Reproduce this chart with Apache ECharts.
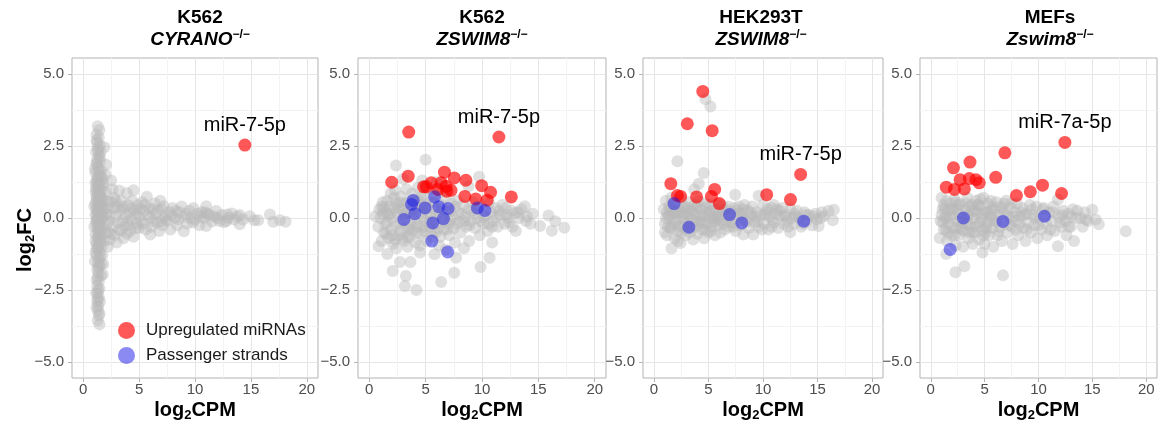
<!DOCTYPE html>
<html><head><meta charset="utf-8">
<script src="https://cdn.jsdelivr.net/npm/echarts@6/dist/echarts.min.js"></script>
<style>html,body{margin:0;padding:0;background:#fff}#c{width:1161px;height:428px}</style>
</head><body><div id="c"></div>
<script>
// ---------- DATA ----------
const cellLines = ['K562', 'K562', 'HEK293T', 'MEFs'];
const genes = ['CYRANO', 'ZSWIM8', 'ZSWIM8', 'Zswim8'];
const xTicks = [0, 5, 10, 15, 20];
const yTicks = [-5, -2.5, 0, 2.5, 5];
const xMinor = [2.5, 7.5, 12.5, 17.5];
const yMinor = [-3.75, -1.25, 1.25, 3.75];
const seriesNames = ['Upregulated miRNAs', 'Passenger strands'];
const labelNames = ['miR-7-5p', 'miR-7-5p', 'miR-7-5p', 'miR-7a-5p'];
const labelIndex = [0, 1, 3, 0];

const p1Gray = [[1.3,3.18],[1.45,3.05],[1.2,2.9],[1.4,2.78],[1.25,2.62],[1.5,2.5],[1.3,2.44],[1.15,2.3],[1.4,2.18],[1.9,2.45],[1.25,2.05],[1.5,1.97],[1.2,1.86],[1.35,1.74],[1.6,1.66],[1.1,1.58],[1.45,1.5],[1.3,1.41],[1.7,1.35],[1.2,1.27],[1.5,1.2],[1.35,1.1],[1.15,1.02],[1.6,0.96],[1.3,0.88],[1.45,0.8],[1.2,0.72],[1.55,0.65],[1.35,0.57],[1.1,0.5],[1.5,0.43],[1.25,0.36],[1.4,0.28],[1.6,0.2],[1.2,0.13],[1.45,0.06],[1.3,-0.02],[1.55,-0.09],[1.15,-0.16],[1.4,-0.24],[1.25,-0.32],[1.5,-0.4],[1.35,-0.48],[1.1,-0.56],[1.45,-0.64],[1.3,-0.73],[1.55,-0.82],[1.2,-0.9],[1.4,-1.0],[1.3,-1.1],[1.5,-1.2],[1.2,-1.3],[1.4,-1.42],[1.3,-1.55],[1.45,-1.66],[1.25,-1.78],[1.35,-1.9],[1.3,-2.05],[1.4,-2.2],[1.25,-2.35],[1.35,-2.5],[1.3,-2.62],[1.4,-2.75],[1.25,-2.9],[1.35,-3.05],[1.3,-3.2],[1.4,-3.38],[1.46,-3.69],[1.3,-3.55],
[1.2,0.3],[1.4,0.15],[1.25,-0.05],[1.35,-0.35],[1.2,0.6],[1.45,-0.55],[1.3,1.0],[1.4,-0.85],[1.25,1.35],[1.5,0.0],
[1.2,2.7],[1.35,2.35],[1.5,2.1],[1.2,1.92],[1.4,1.62],[1.6,1.45],[1.3,1.18],[1.45,0.95],[1.25,0.78],[1.55,0.52],[1.3,0.22],[1.2,-0.1],[1.5,-0.3],[1.3,-0.62],[1.6,-0.7],[1.2,-1.05],[1.5,-1.35],[1.35,-1.7],[1.2,-2.15],[1.45,-2.45],[1.3,-2.82],[1.2,-3.1],[1.45,-3.3],
[1.1,0.9],[1.6,0.75],[1.1,-0.8],[1.6,-0.45],[1.1,1.2],[1.65,1.1],[1.1,-1.2],[1.65,-1.0],[1.1,0.1],[1.65,0.35],
[1.0,0.4],[1.0,-0.3],[1.75,0.0],[1.75,-0.35],[1.7,0.45],[1.05,-1.5],[1.05,1.7],[1.6,-1.6],[1.55,2.3],[1.6,-2.0],[1.15,-2.6],[1.5,-2.9],
[1.8,1.2],[2.0,0.9],[2.2,0.6],[1.9,0.3],[2.4,0.1],[2.1,-0.2],[2.3,-0.5],[1.9,-0.8],[2.2,-1.0],[2.6,1.0],[2.8,0.7],[2.7,0.35],[2.9,0.05],[2.6,-0.3],[2.8,-0.6],[3.0,-0.85],[2.5,1.3],[2.0,1.5],[1.7,-1.3],[1.8,-1.6],[1.75,-1.95],[2.05,1.85],[2.4,-0.75],[1.8,0.05],[2.0,-0.5],[1.7,0.7],
[1.8,0.6],[2.1,0.15],[2.5,0.55],[2.3,-0.1],[3.0,0.4],[3.1,-0.15],[3.6,0.3],[3.7,-0.3],[4.2,0.2],[4.2,-0.45],[4.8,0.15],[5.1,0.3],[5.4,-0.2],[5.8,0.1],[6.3,-0.1],[6.7,0.25],[7.4,-0.05],[7.9,0.1],[8.5,-0.05],[9.2,0.15],[9.8,-0.15],[10.5,0.05],[11.1,0.15],[11.7,0.05],[12.2,-0.1],[13.0,0.0],
[2.2,0.35],[2.5,-0.55],[2.9,0.6],[3.4,-0.45],[3.5,0.4],[4.0,-0.1],[4.4,0.35],[5.0,-0.35],[5.5,0.45],[6.2,0.3],[7.0,-0.1],[8.3,0.25],[9.6,0.0],[10.9,0.2],[12.8,-0.1],
[3.2,0.95],[3.4,0.6],[3.3,0.25],[3.5,-0.1],[3.2,-0.4],[3.6,-0.7],[3.9,0.87],[4.0,0.45],[3.8,0.1],[4.1,-0.25],[3.9,-0.55],[4.5,0.96],[4.4,0.6],[4.6,0.25],[4.3,-0.05],[4.7,-0.35],[4.5,-0.65],[4.9,0.45],[5.0,0.05],[4.8,-0.2],
[5.3,0.55],[5.5,0.25],[5.2,-0.1],[5.6,-0.4],[5.7,0.74],[5.9,0.35],[6.0,0.0],[6.1,-0.3],[6.0,-0.57],[6.4,0.5],[6.5,0.15],[6.6,-0.15],[6.8,-0.45],[6.9,0.6],[7.0,0.3],[7.2,0.41],[7.3,0.05],[7.1,-0.25],[7.5,-0.1],[7.8,-0.4],[7.7,0.2],[8.0,0.35],
[8.2,0.0],[8.4,-0.25],[8.6,0.2],[8.8,0.4],[9.0,-0.46],[9.1,0.05],[9.3,-0.2],[9.5,0.25],[9.85,0.35],[10.0,-0.05],[10.2,0.15],[10.4,-0.25],[10.6,0.2],[10.8,0.0],[11.0,0.41],[11.0,-0.28],[11.3,0.1],[11.5,-0.12],[11.9,0.24],[12.0,0.0],
[12.4,0.1],[12.6,-0.15],[12.9,0.12],[13.3,0.16],[13.5,-0.05],[13.8,0.05],[14.0,-0.22],[14.0,0.1],[14.3,-0.05],[14.9,0.06],[15.3,-0.08],[15.65,-0.08],[16.7,0.12],[17.0,-0.13],[17.6,-0.08],[18.1,-0.13]];
const p1Up = [[14.46,2.53]];
const p1Pass = [];

const p2Gray = [[0.53,0.06],[0.82,-0.98],[1.1,-0.8],[0.9,0.3],[0.8,-0.3],[1.2,0.55],[1.3,-0.5],[1.0,0.0],[1.5,0.2],[1.4,-0.2],[1.6,0.6],[1.7,-0.7],[1.9,0.85],[1.8,0.4],[2.0,0.0],[1.9,-0.4],[2.1,-0.9],[2.3,0.96],[2.4,0.5],[2.5,0.15],[2.3,-0.25],[2.6,-0.6],[2.4,-1.05],[2.8,0.75],[2.9,0.3],[3.0,-0.1],[2.8,-0.45],[3.1,-0.8],[3.3,1.0],[3.4,0.55],[3.5,0.2],[3.3,-0.3],[3.6,-0.65],[3.4,-1.0],[3.8,0.85],[3.9,0.3],[4.0,-0.05],[3.8,-0.45],[4.1,-0.85],[4.3,1.05],[4.4,0.6],[4.5,0.2],[4.3,-0.2],[4.6,-0.55],[4.5,-0.95],[4.8,0.8],[4.9,0.35],[5.0,-0.1],[4.9,-0.45],[5.1,-0.8],[5.3,1.0],[5.4,0.55],[5.5,0.1],[5.3,-0.3],[5.6,-0.65],[5.8,0.8],[5.9,0.3],[6.0,-0.2],[5.9,-0.5],[6.2,-0.95],[6.3,0.9],[6.4,0.45],[6.5,0.0],[6.6,-0.4],[6.8,0.7],[6.9,0.2],[7.0,-0.2],[7.1,-0.6],[7.3,0.5],[7.4,0.05],[7.5,-0.35],[7.6,-0.85],[7.8,0.6],[7.9,0.2],[8.0,-0.15],[8.1,-0.5],
[1.2,0.15],[1.6,-0.15],[2.2,0.35],[2.7,-0.2],[3.2,0.15],[3.7,-0.25],[4.2,0.4],[4.7,0.05],[5.2,0.35],[5.7,-0.1],[6.2,0.2],[6.7,-0.1],
[1.3,0.35],[1.7,0.1],[2.0,-0.6],[2.2,0.7],[2.6,0.35],[2.9,-0.7],[3.1,0.5],[3.5,-0.4],[3.7,0.1],[4.0,0.65],[4.3,-0.5],[4.6,0.45],[4.8,-0.3],[5.1,0.15],[5.5,-0.45],[5.7,0.55],[6.1,-0.35],[6.5,0.3],[6.9,-0.4],[7.2,0.25],[7.7,-0.2],[8.2,0.15],[8.9,-0.25],[9.5,0.3],[10.2,0.05],[10.9,-0.3],[11.5,0.25],[12.4,-0.15],[13.2,0.2],[14.0,0.05],
[1.1,0.4],[1.5,-0.55],[1.9,0.15],[2.3,-0.75],[2.7,0.55],[3.0,0.1],[3.4,-0.65],[3.9,0.6],[4.2,-0.3],[4.6,0.7],[5.0,0.45],[5.4,-0.15],[5.9,0.05],[6.3,-0.65],[7.2,-0.05],[7.6,0.4],[8.4,-0.1],[9.1,0.25],[9.9,-0.1],[10.6,-0.2],[11.3,0.05],[12.2,0.1],
[8.3,0.45],[8.5,0.05],[8.6,-0.3],[8.86,-0.8],[8.8,0.3],[9.0,-0.1],[9.2,0.55],[9.3,0.15],[9.4,-0.35],[9.6,0.0],[9.8,-0.6],[9.74,1.43],[9.9,0.4],[10.1,-0.2],[10.3,0.1],[10.5,-0.45],[10.6,0.5],[10.9,-0.85],[10.8,0.2],[11.0,-0.1],[11.2,0.35],[11.4,-0.3],[11.6,0.1],[11.8,0.45],[12.1,0.35],[12.0,-0.2],[12.3,0.0],[12.6,0.25],[12.7,-0.3],[13.0,0.18],[13.0,-0.45],[13.3,0.0],[13.5,0.3],[13.8,0.41],[13.9,-0.1],[14.3,-0.2],[14.5,0.15],[15.15,-0.28],[15.9,0.09],[16.2,-0.44],[16.5,-0.11],[17.3,-0.34],
[2.37,1.82],[5.0,2.02],[2.08,-1.84],[3.25,-2.01],[3.16,-2.36],[4.18,-2.5],[6.38,-2.22],[7.54,-1.9],[9.88,-1.7],[10.67,-1.38],[2.72,-1.53],[3.65,-1.53],[5.79,-1.26],[7.7,-1.38],[4.5,-1.2],[1.6,-1.25],[6.8,-1.1],[8.4,-1.05],[3.0,1.35],[4.7,1.3],[8.8,1.1],[6.0,1.25]];
const p2Up = [[3.5,2.98],[11.5,2.81],[3.45,1.45],[1.99,1.24],[4.82,1.08],[5.06,1.08],[5.5,1.22],[6.38,1.22],[6.67,1.59],[7.54,1.39],[6.81,1.1],[7.25,0.96],[6.87,0.93],[8.57,1.31],[9.97,1.12],[10.76,0.89],[8.48,0.75],[9.44,0.66],[10.46,0.62],[12.6,0.73],[6.08,0.99]];
const p2Pass = [[3.89,0.61],[3.75,0.47],[5.79,0.73],[4.95,0.35],[6.17,0.39],[6.99,0.33],[4.04,0.15],[3.07,-0.05],[5.64,-0.17],[6.58,-0.02],[9.59,0.35],[10.26,0.26],[5.55,-0.8],[6.96,-1.18]];

const p3Gray = [[0.9,0.3],[1.0,-0.2],[1.1,0.6],[1.2,-0.6],[1.3,0.05],[1.4,0.4],[1.5,-0.35],[1.61,-1.06],[1.6,0.7],[1.7,0.15],[1.8,-0.2],[1.9,-0.7],[2.0,0.45],[2.1,-0.05],[2.2,-0.45],[2.15,1.97],[2.3,0.3],[2.45,-0.87],[2.5,0.65],[2.6,0.0],[2.7,-0.3],[2.8,0.4],[2.9,-0.6],[3.0,0.15],[3.1,-0.15],[3.2,0.55],[3.3,-0.5],[3.4,0.25],[3.5,-0.05],[3.6,-0.75],[3.7,1.0],[3.7,0.45],[3.8,-0.3],[3.9,0.1],[4.0,-0.55],[4.12,1.19],[4.1,0.6],[4.2,-0.1],[4.3,0.3],[4.4,-0.4],[4.57,1.56],[4.5,0.05],[4.6,-0.7],[4.73,4.12],[5.18,3.87],[4.7,0.5],[4.8,-0.2],[4.9,0.2],[5.0,-0.5],[5.1,0.45],[5.2,0.0],[5.3,-0.3],[5.5,0.3],[5.6,-0.6],[5.7,0.05],[5.8,0.5],[5.9,-0.25],[6.0,0.2],[6.1,-0.5],[6.2,0.45],[6.3,-0.1],[6.4,0.25],[6.5,-0.4],
[1.2,0.2],[1.6,-0.3],[2.0,-0.1],[2.4,0.2],[2.8,-0.1],[3.3,0.0],[3.9,0.35],[4.4,-0.15],[5.0,0.1],[5.6,-0.1],[6.1,0.05],[1.0,-0.5],[1.4,0.1],[2.2,-0.8],[3.0,-0.4],
[1.3,-0.3],[1.7,0.5],[2.1,0.2],[2.5,-0.5],[2.9,0.3],[3.2,-0.25],[3.6,0.2],[4.0,0.45],[4.3,-0.2],[4.8,0.35],[5.2,-0.45],[5.5,0.0],[5.9,0.3],[6.4,-0.2],[6.9,0.05],[7.3,-0.3],[7.8,0.15],[8.2,0.3],[8.6,-0.1],[9.3,0.05],[9.9,-0.4],[10.4,0.3],[10.9,-0.05],[11.5,0.25],[12.0,0.05],[12.9,0.15],[13.7,-0.2],[14.6,0.05],[15.4,0.2],
[1.1,0.0],[1.5,0.3],[1.9,0.2],[2.3,-0.3],[2.7,0.2],[3.1,0.35],[3.5,-0.35],[3.9,-0.1],[4.3,0.1],[4.7,-0.4],[5.1,0.2],[5.4,-0.15],[6.0,-0.05],[6.6,0.3],[7.0,-0.15],[7.6,0.25],[8.0,-0.05],[8.8,0.2],[9.5,-0.1],[10.2,0.1],[10.8,-0.3],[11.3,0.3],[12.2,-0.1],[13.0,0.05],[13.9,0.1],[14.9,-0.05],
[6.7,0.1],[6.8,0.4],[6.9,-0.3],[7.1,0.2],[7.2,-0.15],[7.45,0.81],[7.4,0.35],[7.5,-0.45],[7.7,0.05],[7.8,0.4],[7.9,-0.25],[8.1,0.15],[8.2,-0.57],[8.3,0.45],[8.4,-0.1],[8.6,0.25],[8.7,-0.35],[8.9,0.05],[9.1,-0.57],[9.0,0.4],[9.2,-0.15],[9.4,0.2],[9.6,0.77],[9.6,-0.3],[9.8,0.1],[10.0,0.45],[10.1,-0.2],[10.3,0.2],[10.5,-0.4],[10.6,0.05],[10.8,0.35],[11.0,0.45],[11.0,-0.15],[11.2,0.15],[11.4,-0.35],[11.6,0.07],[11.8,0.35],[11.9,-0.2],
[12.1,0.1],[12.3,-0.3],[12.5,-0.49],[12.5,0.3],[12.7,0.0],[12.9,-0.2],[13.1,0.25],[13.3,0.0],[13.5,-0.3],[13.8,0.2],[14.0,-0.1],[14.2,0.1],[14.5,-0.25],[14.8,0.15],[15.1,-0.28],[15.3,0.0],[15.6,0.07],[16.0,0.25],[16.4,-0.08],[16.5,0.29]];
const p3Up = [[4.48,4.39],[3.06,3.27],[5.34,3.03],[13.45,1.51],[1.55,1.19],[5.57,0.99],[2.15,0.78],[2.45,0.75],[3.91,0.73],[5.27,0.75],[6.0,0.5],[10.34,0.81],[12.52,0.64]];
const p3Pass = [[1.85,0.5],[3.21,-0.32],[6.94,0.12],[8.06,-0.17],[13.73,-0.11]];

const p4Gray = [[0.83,-0.69],[0.9,-0.1],[1.0,0.7],[1.1,0.3],[1.2,-0.4],[1.3,0.0],[1.44,0.59],[1.44,-1.25],[1.5,-0.8],[1.6,0.25],[1.7,-0.2],[1.8,0.5],[1.9,-0.6],[2.0,0.1],[2.1,-0.35],[2.2,0.65],[2.29,-1.88],[2.3,-0.95],[2.4,0.3],[2.5,-0.1],[2.6,-0.6],[2.7,0.5],[2.8,0.0],[2.9,-0.4],[3.12,-1.67],[3.0,-1.0],[3.2,0.3],[3.3,-0.2],[3.4,0.7],[3.5,-0.7],[3.6,0.1],[3.7,-0.3],[3.8,0.45],[3.9,-0.9],[4.0,0.0],[4.1,-0.5],[4.2,0.6],[4.3,0.2],[4.4,-0.2],[4.5,-0.75],[4.8,-1.2],[4.6,0.4],[4.7,0.0],[4.8,-0.4],[4.9,0.7],[5.0,-0.9],[5.1,0.2],[5.2,-0.2],[5.3,0.5],[5.4,-0.6],[5.5,0.05],[5.6,0.6],[5.7,-0.35],[5.8,-1.0],[5.9,0.3],[6.0,-0.1],
[1.1,-0.15],[1.6,-0.5],[2.1,0.3],[2.6,0.15],[3.1,-0.45],[3.6,0.4],[4.1,0.25],[4.6,-0.15],[5.1,-0.5],[5.6,0.25],[1.3,0.35],[2.4,-0.3],[3.4,0.05],[4.4,0.45],[5.4,-0.15],
[1.2,0.45],[1.5,0.0],[1.9,0.3],[2.2,-0.6],[2.6,0.45],[2.9,-0.15],[3.3,0.5],[3.6,-0.5],[3.9,0.25],[4.2,-0.3],[4.6,0.65],[4.9,-0.6],[5.3,0.2],[5.7,0.4],[6.2,-0.1],[6.6,0.3],[7.1,0.1],[7.5,0.5],[7.9,-0.4],[8.4,0.2],[8.9,-0.4],[9.4,0.3],[10.0,-0.25],[10.6,0.1],[11.3,0.2],[12.0,-0.15],[12.8,-0.3],[13.6,0.25],[14.4,-0.05],
[1.0,0.1],[1.4,-0.4],[1.8,0.0],[2.3,0.55],[2.7,-0.35],[3.1,0.1],[3.5,-0.2],[3.9,-0.5],[4.3,0.45],[4.8,0.15],[5.2,-0.35],[5.7,0.05],[6.3,-0.45],[6.8,0.5],[7.3,-0.25],[7.7,0.05],[8.2,-0.2],[8.7,0.1],[9.7,0.0],[10.5,0.35],[11.1,-0.4],[12.2,0.1],[13.0,0.05],
[6.1,0.55],[6.2,-0.6],[6.3,0.1],[6.4,-0.3],[6.5,0.4],[6.7,-1.99],[6.6,-0.8],[6.8,0.2],[6.9,-0.2],[7.0,0.6],[7.1,-0.5],[7.3,0.0],[7.4,0.35],[7.5,-0.3],[7.6,-0.9],[7.8,0.2],[7.9,-0.1],[8.0,0.5],[8.1,-0.6],[8.3,0.05],[8.5,0.35],[8.6,-0.35],[8.8,-0.8],[8.9,0.15],[9.0,-0.15],[9.2,0.45],[9.3,-0.5],[9.5,0.1],[9.6,-0.25],[9.8,0.4],[9.9,-0.7],[10.1,0.0],[10.3,-0.4],[10.4,0.3],[10.7,-0.2],[10.8,-0.6],[11.0,0.2],
[11.2,-0.1],[11.4,0.4],[11.5,-0.45],[11.8,0.64],[11.8,-0.98],[11.9,0.05],[12.1,-0.3],[12.3,0.25],[12.5,-0.1],[12.6,-0.6],[12.8,0.15],[13.0,-0.3],[13.3,-0.8],[13.2,0.3],[13.5,0.0],[13.9,0.0],[14.1,-0.3],[14.3,0.2],[14.6,-0.1],[15.0,0.29],[15.3,-0.05],[15.6,-0.22],[18.1,-0.46]];
const p4Up = [[12.45,2.62],[6.88,2.26],[3.64,1.94],[2.11,1.74],[6.03,1.41],[2.72,1.33],[3.58,1.37],[4.19,1.33],[4.5,1.22],[1.44,1.07],[2.2,0.99],[3.12,1.01],[10.37,1.14],[9.24,0.91],[7.95,0.78],[12.14,0.85]];
const p4Pass = [[3.03,0.0],[6.7,-0.12],[10.55,0.06],[1.8,-1.09]];

// ---------- LAYOUT / STYLE ----------
const grayData = [p1Gray, p2Gray, p3Gray, p4Gray];
const upData = [p1Up, p2Up, p3Up, p4Up];
const passData = [p1Pass, p2Pass, p3Pass, p4Pass];
const FONT = '"Liberation Sans", Arial, sans-serif';
const gridLeft = [72, 358, 643, 920];
const gridWidth = [246, 248, 240, 237];
const titleX = [200, 482, 761, 1050];
const GRID_TOP = 58, GRID_H = 320;
const GRAY = 'rgba(185,185,185,0.55)';
const RED = 'rgba(255,0,0,0.82)';
const BLUE = 'rgba(25,25,230,0.64)';

const fmtY = v => (v < 0 ? '\u2212' : '') + Math.abs(v).toFixed(1);

const grids = [], xAxes = [], yAxes = [], series = [], graphics = [];
// minor-grid axes first (indices 0..3), drawn underneath the major ones
for (let i = 0; i < 4; i++) {
  xAxes.push({gridIndex: i, type: 'value', min: -1, max: 21, position: 'top',
    axisLine: {show: false, onZero: false}, axisLabel: {show: false},
    axisTick: {show: false, customValues: xMinor},
    splitLine: {show: true, lineStyle: {color: '#f3f3f3', width: 1}}});
  yAxes.push({gridIndex: i, type: 'value', min: -5.55, max: 5.55, position: 'right',
    axisLine: {show: false, onZero: false}, axisLabel: {show: false},
    axisTick: {show: false, customValues: yMinor},
    splitLine: {show: true, lineStyle: {color: '#f3f3f3', width: 1}}});
}
for (let i = 0; i < 4; i++) {
  grids.push({left: gridLeft[i], top: GRID_TOP, width: gridWidth[i], height: GRID_H,
    show: true, borderColor: '#b3b3b3', borderWidth: 1, backgroundColor: '#fff'});
  xAxes.push({gridIndex: i, type: 'value', min: -1, max: 21, position: 'bottom',
    axisLine: {show: false, onZero: false},
    axisTick: {show: true, length: 4, customValues: xTicks, lineStyle: {color: '#b3b3b3'}},
    axisLabel: {customValues: xTicks, color: '#4d4d4d', fontSize: 15, fontFamily: FONT, margin: 4},
    splitLine: {show: true, lineStyle: {color: '#e6e6e6', width: 1}}});
  yAxes.push({gridIndex: i, type: 'value', min: -5.55, max: 5.55, position: 'left',
    axisLine: {show: false, onZero: false},
    axisTick: {show: true, length: 4, customValues: yTicks, lineStyle: {color: '#b3b3b3'}},
    axisLabel: {customValues: yTicks, color: '#4d4d4d', fontSize: 15, fontFamily: FONT, margin: 8, formatter: fmtY},
    splitLine: {show: true, lineStyle: {color: '#e6e6e6', width: 1}}});
  const ax = 4 + i;
  series.push({type: 'scatter', name: 'other', xAxisIndex: ax, yAxisIndex: ax, data: grayData[i],
    symbol: 'circle', symbolSize: 12, itemStyle: {color: GRAY}, silent: true, z: 2});
  series.push({type: 'scatter', name: seriesNames[0], xAxisIndex: ax, yAxisIndex: ax,
    data: upData[i].map((d, k) => k === labelIndex[i] ? {value: d, label: {show: true, formatter: labelNames[i],
      position: 'top', distance: 3, fontSize: 20, color: '#000', opacity: 1, textBorderWidth: 0, fontFamily: FONT}} : d),
    symbol: 'circle', symbolSize: 13, itemStyle: {color: RED}, silent: true, z: 3});
  series.push({type: 'scatter', name: seriesNames[1], xAxisIndex: ax, yAxisIndex: ax, data: passData[i],
    symbol: 'circle', symbolSize: 13, itemStyle: {color: BLUE}, silent: true, z: 4});

  graphics.push({type: 'text', x: titleX[i], y: 7, style: {
    text: '{b|' + cellLines[i] + '}\n{i|' + genes[i] + '}{s|\u2212/\u2212}',
    align: 'center', verticalAlign: 'top',
    rich: {
      b: {fontSize: 19, fontWeight: 'bold', fontFamily: FONT, color: '#000', lineHeight: 22, verticalAlign: 'middle'},
      i: {fontSize: 19, fontWeight: 'bold', fontStyle: 'italic', fontFamily: FONT, color: '#000', lineHeight: 22, verticalAlign: 'middle'},
      s: {fontSize: 12, fontWeight: 'bold', fontFamily: FONT, color: '#000', lineHeight: 14, verticalAlign: 'top'}
    }}});
  graphics.push({type: 'text', x: gridLeft[i] + gridWidth[i] / 2, y: 410, style: {
    text: '{a|log}{s|2}{a|CPM}', align: 'center', verticalAlign: 'middle',
    rich: {
      a: {fontSize: 20, fontWeight: 'bold', fontFamily: FONT, color: '#000', lineHeight: 24, verticalAlign: 'middle'},
      s: {fontSize: 13, fontWeight: 'bold', fontFamily: FONT, color: '#000', lineHeight: 14, verticalAlign: 'bottom'}
    }}});
}
graphics.push({type: 'text', x: 25, y: 240, rotation: Math.PI / 2, style: {
  text: '{a|log}{s|2}{a|FC}', align: 'center', verticalAlign: 'middle',
  rich: {
    a: {fontSize: 20, fontWeight: 'bold', fontFamily: FONT, color: '#000', lineHeight: 24, verticalAlign: 'middle'},
    s: {fontSize: 13, fontWeight: 'bold', fontFamily: FONT, color: '#000', lineHeight: 14, verticalAlign: 'bottom'}
  }}});

const chart = echarts.init(document.getElementById('c'), null, {renderer: 'canvas'});
chart.setOption({
  animation: false,
  backgroundColor: '#fff',
  grid: grids, xAxis: xAxes, yAxis: yAxes, series: series, graphic: graphics,
  legend: {data: seriesNames, orient: 'vertical', left: 113, top: 317, icon: 'circle',
    itemWidth: 17, itemHeight: 17, itemGap: 8, selectedMode: false,
    textStyle: {fontSize: 17, color: '#1a1a1a', fontFamily: FONT, padding: [0, 0, 0, 6]}}
});
</script></body></html>
